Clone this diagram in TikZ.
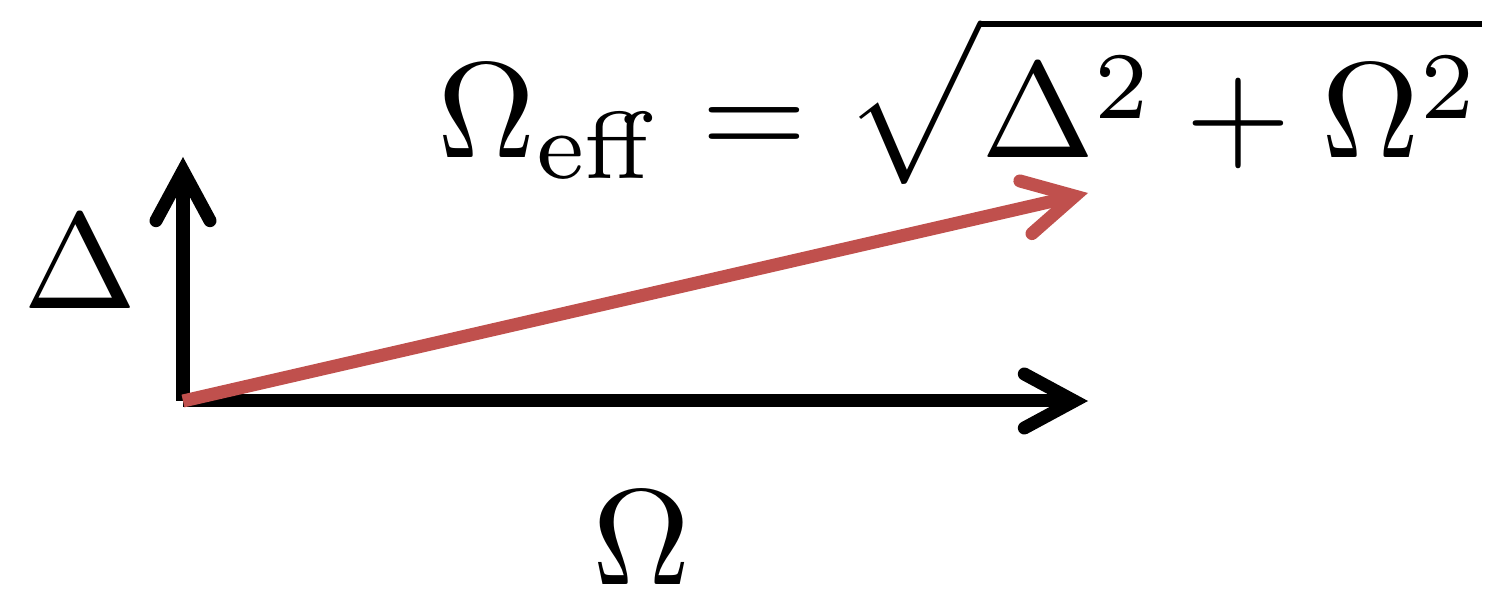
\documentclass[tikz,border=0pt]{standalone}
\usepackage{amsmath}
\usetikzlibrary{arrows.meta}
\definecolor{vecred}{RGB}{192,80,77}
\newcommand{\bigsym}[1]{\scalebox{3.874}{#1}}

\begin{document}
\begin{tikzpicture}[>={Straight Barb[length=5mm, width=5.4mm, line cap=round]},
    vec/.style={->, line width=3.7pt},
    lbl/.style={inner sep=0pt}]
    \useasboundingbox (0,0) rectangle (14.86,6.06);
    \coordinate (O) at (1.83,2.05);
    \coordinate (Dtip) at (1.83,4.49);
    \coordinate (Otip) at (10.88,2.05);
    \coordinate (Etip) at (10.88,4.13);
    \draw[vec] (O) -- (Dtip);
    \draw[vec] (O) -- (Otip);
    \draw[vec, vecred] (O) -- (Etip);
    \node[lbl] (D) at (0.80,3.44) {\bigsym{$\Delta$}};
    \node[lbl] (W) at (6.42,0.68) {\bigsym{$\Omega$}};
    % effective frequency
    \node[lbl, anchor=base west] (eq) at (4.37,4.48)
        {\bigsym{$\displaystyle \Omega_{\mathrm{eff}}
          = \sqrt{\rule[-0.12em]{0pt}{0.12em}\Delta^2 + \Omega^2}$}};
\end{tikzpicture}
\end{document}
